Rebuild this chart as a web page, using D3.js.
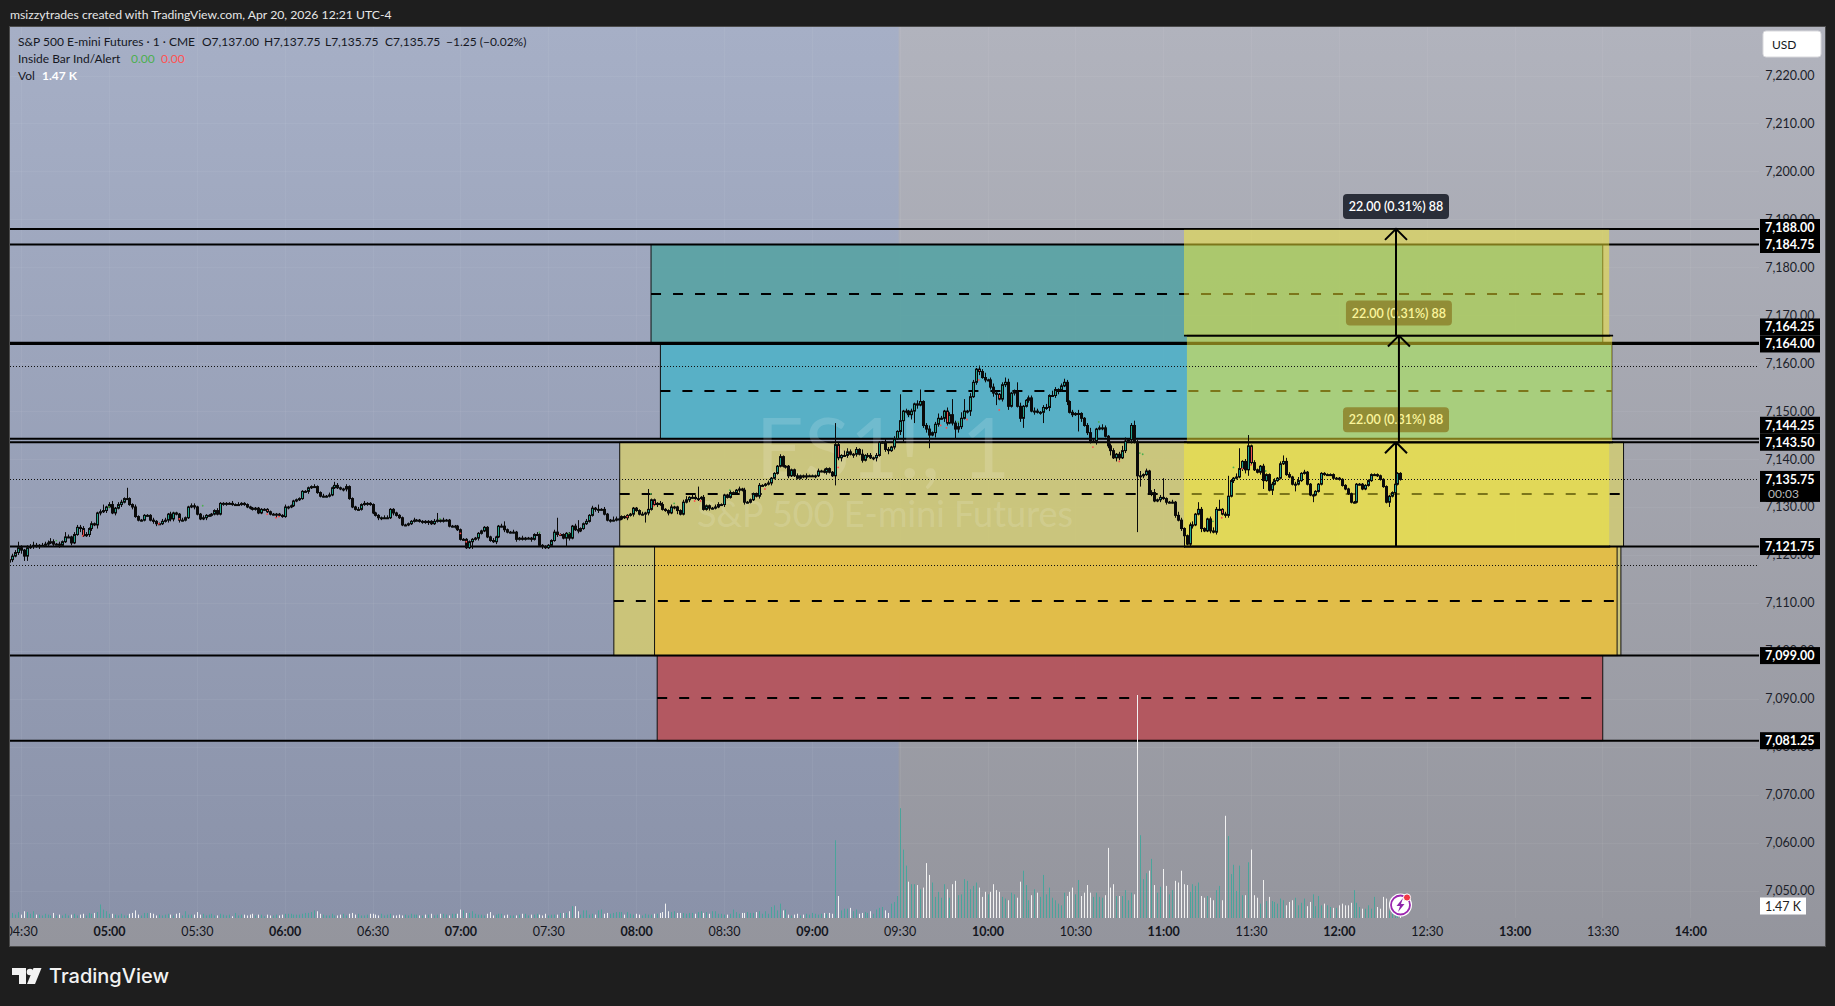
<!DOCTYPE html>
<html><head><meta charset="utf-8">
<script src="https://cdn.jsdelivr.net/npm/d3@7/dist/d3.min.js"></script>
<style>
html,body{margin:0;padding:0;background:#1e1e1e;overflow:hidden}
svg{display:block}
text{font-family:Lato,"Noto Sans",sans-serif}
</style></head><body><svg id="c" width="1835" height="1006"></svg>
<script>
// ---------- data ----------
const closesEarly=[7119,7119.75,7120.5,7121.5,7121,7119.75,7121.5,7121.75,7122,7121.75,7122,7122,7122.25,7122.5,7122.75,7122.25,7122.25,7122,7122.75,7123.75,7123.75,7122.5,7124.25,7125.75,7125.5,7124,7124.25,7125.5,7126.5,7126.25,7128.75,7129,7129.25,7130,7130.5,7128.75,7129.75,7130.5,7131,7131.75,7131.75,7130.5,7130,7128,7127.25,7127.25,7128.25,7128.25,7127.25,7127,7126.5,7126.5,7127,7127.25,7128.5,7127.5,7128.75,7128.5,7127.25,7127.25,7127.75,7130,7130.25,7130,7128.5,7127.5,7127.75,7128.25,7128.25,7128.5,7129.25,7128.5,7130.75,7130.75,7130.75,7130.75,7130.5,7130.5,7130.5,7130.75,7130.5,7130,7129.75,7129.5,7129.75,7128.75,7129.5,7129.5,7129,7128.5,7128.5,7128.5,7128.25,7128,7130,7130,7130.25,7131.25,7131.5,7131.75,7133.25,7133.25];
const closesMorning=[7134,7134.25,7134.25,7133,7132.25,7132.25,7132.25,7132.5,7134,7134.5,7134,7133.75,7133.75,7134.25,7131.75,7130,7129.5,7129.5,7130.5,7130.75,7130.75,7130.5,7128.75,7128.25,7127.75,7127.75,7127.75,7127.75,7129.5,7128.75,7128.25,7127.75,7126.25,7126.25,7126.5,7127,7127.25,7127.25,7127,7127,7126.75,7127,7126.5,7127,7127.25,7127,7127.25,7127.25,7126,7126,7126,7125.25,7123.25,7123.25,7121.5,7122.75,7123.25,7123.5,7124.5,7125,7125.75,7123.75,7123,7122.75,7123.75,7126,7126,7125.25,7124.75,7124.75,7124.75,7123.25,7123.5,7123.25,7123.5,7123.5,7123.25,7124.25,7124.25,7122,7121.75,7121.5,7122,7123,7124.75,7124.25,7124.25,7123.5,7124.5,7123.5,7126,7125.25,7125,7125.5,7126.5,7127,7128.25,7129.75,7129.5,7129.5,7129.5,7128.5,7127.25,7127.25,7127.25,7127.5,7127.5,7128,7127.75,7128.25,7128.5,7129.75,7129.25];
const closesOpen=[7128.5,7128.5,7128.75,7129.5,7131.5,7130.5,7130.75,7130.5,7129.5,7129.25,7128.75,7130,7130,7129.25,7128.5,7131,7131.5,7132,7132,7131.75,7131.75,7132,7129.5,7130.25,7129.75,7129.75,7130,7130.5,7130.5,7132.5,7132,7133,7133,7133.5,7133.75,7133.5,7131,7131,7131.5,7132.75,7132.25,7134.5,7134.5,7134.75,7135,7136,7137,7138.5,7140.5,7138.5,7138.5,7136.5,7137.75,7136.5,7136,7136.5,7136.25,7136.5,7136.5,7136.5,7136.5,7137.5,7137.5,7137.25,7138,7137.25,7136.5,7143,7140.25,7140.75,7140.75,7141.5,7141,7141,7142,7141,7139.75,7140.75,7140.75,7140.25,7140.25,7140.75,7143.5,7143.5,7142,7141.75,7142.5,7144.25,7145.75,7148,7150,7150,7149.25,7150,7151.5,7151.25,7152,7147,7146.25,7145,7145.5,7147.25,7148.5,7148.5,7150,7147.5,7149.25,7147.5,7146.25,7146.75,7148.5,7150,7150,7153,7156,7158.75,7158.25,7157,7156.5,7156.5,7155,7153.75,7153.5,7152.5,7155.5,7156,7151,7153.75,7154,7151];
const closesMidday=[7148.5,7151,7152.25,7152.75,7150,7150,7149.75,7149.75,7150.75,7150.75,7153.25,7153.25,7154.5,7154.5,7155.25,7156,7152,7149.75,7149.25,7149.5,7149.5,7148.5,7147,7145.5,7143.75,7143.75,7146.25,7146.5,7146.5,7144.75,7142.75,7141.75,7140.25,7141,7140.25,7141.75,7143.75,7144,7147,7143.5,7136.5,7136.5,7136.75,7137.5,7133,7133,7131.25,7131.5,7132,7131.75,7131,7131,7131,7128.25,7127.25,7125.5,7124,7122.25,7126.25,7126.25,7128.5,7129.5,7125.5,7125,7127.5,7125,7124.75,7129.5,7129.5,7128.5,7128.25,7132.25,7135.5,7136,7136.25,7138,7139.5,7137.75,7142.75,7139.25,7137.75,7137.25,7138.5,7135.5,7136.75,7133.5,7134.75,7135.5,7136,7139,7139.5,7136.75,7136.25,7134.75,7134.75,7135.5,7137,7137.25,7134.75,7132.5,7132.5,7133.25,7134.75,7137,7136.75,7136.75,7136.75,7136,7136,7135.75,7134.5,7133.75,7132.75,7131,7131,7134.75,7134.75,7133.75,7134.5,7135.5,7136.75,7136.75,7136.5,7135.75,7134.25,7131,7132.25,7133,7134.75,7137,7135.75];
const upperWicks=[.5,.5,.5,.75,.5,.25,.5,.5,.75,.5,.25,.5,.5,.5,.75,.5,.25,.5,.25,.25,.5,.25,.5,.5,.25,.5,.5,.25,.5,.25,.25,.5,.5,.25,.5,.75,.25,.5,.5,.25,.5,.25,.25,.5,.25,.25,.25,.25,.25,.5,.25,.25,.5,.5,.25,.5,.25,.25,.25,.5,.25,.25,.5,.5,.25,.25,.5,.25,.25,.25,.25,.5,.25,.25,.25,.25,.5,.25,.5,.25,.25,.25,.25,.25,.25,.25,.25,.25,.25,.25,.25,.25,.25,.25,.5,.25,.25,.25,.25,.25,.25,.25,.25,.25,.5,.25,.25,.5,.25,.5,.25,.75,.5,.25,.25,.5,.25,.25,.25,.5,.25,.5,.25,.25,.25,.25,.25,.25,.5,.5,.25,.25,.25,.25,.25,.25,.25,.25,.5,.25,.25,.25,.25,.25,.25,.5,.25,.25,.5,.25,.25,.25,.25,.25,.25,.25,.25,.25,.25,.25,.25,.25,.25,.25,.25,.5,.25,.25,.5,.5,.25,.25,.5,.25,.25,.5,.25,.25,.25,.25,.5,.25,.25,.25,.25,.25,.5,.25,.25,.25,.25,.25,.25,.5,.25,.25,.25,.5,.25,.5,.25,.25,.25,.5,.25,.25,.75,.5,.25,.25,.25,.25,.25,.25,.25,.25,.5,.25,.25,.25,.25,.25,.5,.5,.25,.25,.5,.25,.25,.25,.5,.75,.25,.5,.5,.25,.25,.5,.25,.25,.25,.5,.5,.25,.25,.25,.5,.25,.25,.5,.25,.5,.25,.25,.25,.25,.5,.25,.25,.5,.25,.25,.25,.5,.25,.25,.25,.25,.25,.5,.25,.25,.5,.25,.25,.25,.5,.25,.5,.25,.25,.25,.25,.5,.25,1,.75,.5,.25,.5,.25,1,.25,.5,.5,.25,.5,.25,.25,.75,.5,.25,.5,.25,.5,.25,.5,.25,.5,.25,.75,.25,.25,.5,.75,.25,.5,1,.5,.25,.75,.5,.75,.5,1,1.25,.5,.25,.75,.5,.25,.75,.5,1,.25,.5,.75,.5,.25,.5,1,.75,.25,.5,.5,.75,.25,.25,.5,.5,.75,.5,.25,.5,.75,.25,1,.5,.25,.5,.75,.5,.25,.5,.25,.75,.25,.25,.5,1,.5,.25,.5,.75,.5,.25,.5,.5,.25,.5,1,.75,.25,.5,.75,.5,1,.25,.5,.25,.5,.75,.25,.5,.5,.25,.25,.5,.25,.75,.5,.25,.25,.5,.75,.25,.5,.5,.25,.25,.5,.75,.5,.25,.25,.5,.5,.25,.25,.75,.5,.25,.5,.25,.25,.5,.25,.25,.5,.25,.25,.5,.5,.25,.5,.25,.75,.5,.25,.5,.75,.25,.5];
const lowerWicks=[.75,.5,.25,.5,.75,.5,1,.25,.5,.25,.5,.25,.25,.5,.25,.5,.25,.5,.25,.25,.25,.5,.25,.25,.75,.25,.25,.5,.5,.25,.25,.5,.25,.5,.25,.25,.5,.25,.5,.25,.25,.25,.5,.25,.25,.25,.25,.25,.25,.5,.5,.25,.25,.25,.5,.5,.5,.25,.5,.25,.25,.25,.25,.5,.25,.25,.25,.5,.25,.25,.25,.25,.25,.5,.5,.25,.25,.25,.25,.25,.25,.25,.25,.25,.25,.25,.25,.25,.25,.25,.25,.25,.25,.25,.25,.5,.25,.25,.25,.25,.25,.25,.5,.25,.25,.25,.25,.25,.25,.25,.25,.25,.25,.25,.5,.5,.25,.25,.25,.25,.25,.25,.5,.25,.25,.25,.5,.5,.25,.25,.25,.5,.25,.25,.25,.25,.25,.25,.25,.25,.25,.5,.25,.5,.25,.25,.25,.25,.25,.25,.25,.25,.5,.25,.25,.25,.25,.25,.25,.25,.5,.25,.25,.25,.25,.25,.5,.25,.25,.5,.25,.25,.25,.5,.25,.25,.25,.25,.5,.25,.25,.25,.5,.25,.25,.25,.25,.5,.25,.25,.25,.5,.25,.25,.5,.25,.25,.25,.25,.25,.5,.75,.25,.25,.25,.5,.25,.25,.25,.25,.25,.5,.25,.5,.25,.25,.25,.25,.5,.25,.25,.5,.25,.25,.25,.5,.25,.5,.75,.25,.25,.25,.5,.25,.25,.5,.25,.25,.25,.5,.25,.25,.25,.25,.5,.25,.25,.25,.25,.5,.25,.5,.25,.25,.25,.25,.5,.25,.25,.25,.5,.25,.25,.25,.25,.5,.5,.25,.25,.25,.25,.25,.5,.25,.25,.5,.25,.25,.25,.5,.25,.25,1,.5,.75,.25,.5,.25,.75,.5,.25,.5,.25,.5,.25,.5,.75,.25,.25,.5,.75,.25,.5,.25,.75,.25,.5,.5,1,.5,.75,.25,.5,.75,.5,.25,1,.5,.25,.75,.5,.25,.5,.25,.75,.5,.25,.5,1,.25,.5,.75,.25,.5,.25,.5,.75,.5,.25,.5,.5,.75,.25,.5,.25,.75,.5,.25,.5,.25,.75,.25,.5,.25,.5,.75,.25,.5,1,.5,.25,.75,.25,.5,.25,.5,.75,.25,.5,.5,.25,.75,.25,.5,.25,.5,1,.25,.75,.5,.25,.5,.25,.75,.25,.5,.25,.5,.25,.5,.75,.25,.25,.5,.25,.5,.25,.25,.5,.25,.5,.25,.25,.5,.75,.25,.25,.5,.25,.25,.5,.25,.5,.25,.25,.5,.25,.25,.5,.25,.25,.5,.75,.25,.5,.25,.25,.5,.25,.25,.25,.25];
// long wicks read individually: [minute of day, price]
const longHighs=[[269,7122.75],[285,7124.75],[290,7126.25],[298,7130.5],[306,7134],[412,7128.75],[435,7127],[453,7127.75],[460,7127.25],[467,7130.5],[484,7133.75],[501,7134.25],[548,7147.5],[570,7153.5],[577,7154.5],[588,7152.5],[592,7152.5],[610,7156],[650,7148],[660,7136],[672,7131],[679,7131.5],[682,7136.5],[686,7142.25],[689,7145],[701,7140.75]];
const longLows=[[271,7118.75],[296,7125.5],[357,7127.75],[424,7121.25],[456,7121.75],[483,7126.75],[548,7134.5],[571,7143.5],[575,7147.5],[580,7142.25],[589,7144.25],[603,7151.25],[612,7146.5],[619,7147.5],[631,7145.75],[651,7124.75],[652,7134.25],[667,7121.5],[673,7124.75],[682,7127.75],[689,7136.5],[694,7133.75],[697,7132.5],[705,7133.25],[711,7131],[737,7130]];
const redBodyMinutes=[291,354,357,486,502,549,586,597,604,636,680,690];
const redDots=[[291,7124],[317,7126.5],[324,7127.5],[354,7128.5],[357,7127.75],[358,7128],[420,7124.5],[422,7122.75],[454,7124.25],[477,7128],[486,7130.25],[500,7131.25],[502,7131.25],[524,7133.75],[549,7138.25],[584,7147],[586,7146.5],[593,7148.25],[597,7156.5],[604,7150.25],[636,7142.5],[645,7139.5],[680,7127.75],[687,7138],[690,7138.75]];
const greenDots=[[282,7123],[300,7130],[332,7130.25],[413,7127.5],[447,7124.75],[457,7124.5],[485,7132.75],[493,7130.75],[512,7133.5],[590,7147.75],[638,7147.75],[652,7141.25],[653,7141],[677,7127],[684,7138.25],[695,7137.5]];
const volumesEarly=[.5,.6,.4,.7,.4,.8,.7,.5,.8,.4,.4,.3,.5,.4,.3,.6,.3,.4,.3,.5,.3,.4,.5,.3,.4,.5,.3,.6,.5,.6,.7,1.6,1,.8,.5,.5,.4,.3,.5,.3,.3,.5,.6,.9,.4,.3,.6,.6,.6,.5,.3,.4,.3,.4,.5,.4,.3,.5,.6,.3,.8,.4,.4,.4,.7,.4,.5,.3,.4,.5,.3,.3,.5,.4,.3,.4,.2,.6,.3,.4,.4,.3,.4,.5,.3,.4,.4,.2,.4,.3,.3,.4,.3,.4,.5,.5,.5,.4,.4,.4,.5,.6,.6,.7,.9,.8,.5,.4,.3,.3,.5,.3,.3,.4,.5,.3,.5,.6,.4,.5,.3,.3,.4,.5,.5,.4,.3,.5,.3,.4,.5,.3,.3,.4,.3,.4,.3,.5,.4,.4,.3,.3,.4,.4,.5,.3,.4,.5,.5,.4,.3,.5,.5,.5,1,.9,.6,.6,.8,.5,.4,.4,.3,.5,.7,.3,.4,.5,.5,.3,.4,.3,.3,.3,.4,.5,.5,.3,.4,.4,.5,.4,.3,.5,.3,.4,.4,.4,.6,.6,.6,.8,1.4,1.4,.8,.4,.9,.9,.4,.5,.4,.9,1,.5,.6,.5,.6,.7,.7,.7,.4,.7,.5,.4,.5,.4,.3,.5,.4,.4,.5,.5,.6,.7,1.7,.8,.7,.8,.6,.6,.6,.5,.6,.6,.5,.7,.8,.6,.7,.5,.8,.8,.5,.5,.4,.4,.5,1,.7,.5,.6,.6,.7,.6,.6,.7,.8,.5,.8,.5,1.3,1.5,.9,1.7,.9,1,.4,.3,.4,.5,.3,.4,.5,.4,.6,.5,.4,.5,.6,.5,.6,.5,9.2,2.6,.9,1.1,1.1,1.2,.8,1,.5,.6,.7,.6,.8,.5,1,1.2];
const volumesSession=[1.3,.9,.6,1.7,1.9,2.6,13,8.1,6.2,4.3,4,4,3.9,3.4,3.6,6.5,5.1,4.2,2.5,3.1,2.4,4,3.4,2.4,4,4.4,2.7,2.8,4.6,4.4,3.4,3.8,4.2,3.6,2.5,3.1,2.8,3.1,4,3.3,3.1,2.5,2.3,2.1,3,2.8,2.4,4.3,5.6,3.9,2.1,2.7,3.4,3,2.5,5.1,2.8,3.6,2.4,2.1,1.7,1.5,3,2.6,3.1,3.6,2.8,4.5,2.6,3,3.9,3,2.5,3,2.5,2.4,2.7,8.3,3.6,4,2.6,2.6,2.6,3.3,2.1,3,2.8,26.4,9.8,4.6,5.3,5.6,7,3.9,3,3.7,5.8,3.8,2.8,3.3,4.4,4.2,5.6,4,3.9,3.1,4,3.8,4.2,2.6,2.4,2.6,2.4,2.1,3.3,3.8,2.1,12.1,9.7,5.2,6.3,3.2,6.2,2.7,2.7,6.6,8.1,2.7,2.4,1.7,4.5,2,2.5,2,1.9,1.7,2.3,2.1,1.5,1.9,2.1,2.4,1.5,1.8,2.3,1.4,1.9,2.8,1.4,2.6,1.5,1.7,1.5,1.3,1.2,1.2,1.5,1.7,1.5,1.5,1.8,3.3,1.8,1.3,1.1,1.1,1.5,1.1,2.5,1.3,1.1,2.5,2.3,.9,2,1.6,1.2,1.47];
const priceTicks=[7220,7210,7200,7190,7180,7170,7160,7150,7140,7130,7120,7110,7100,7090,7080,7070,7060,7050];
const timeTicks=[270,300,330,360,390,420,450,480,510,540,570,600,630,660,690,720,750,780,810,840];
const levelPrices=[7188,7184.75,7164.25,7164,7144.25,7143.5,7121.75,7099,7081.25];
const dottedPrices=[7159.5,7135.75,7118];
const zones=[ // [start minute, end minute, top price, bottom price, fill]
 [472.4,816.3,7121.75,7099,"rgba(205,198,118,.95)"],
 [486.3,815,7121.75,7099,"rgb(225,189,73)"],
 [487.2,810.1,7099,7081.25,"rgba(180,86,94,.97)"],
 [485.1,810.1,7184.75,7164.25,"rgba(93,163,165,.97)"],
 [488.3,813.2,7164,7144.25,"rgba(87,176,198,.98)"],
 [474.4,817.2,7143.5,7121.75,"rgba(204,199,122,.95)"]];
const midlines=[[472.4,816.3,7110.4],[487.2,810.1,7090.1],[485.1,810.1,7174.5],[488.3,813.2,7154.25],[474.4,817.2,7132.75]];
const measures=[ // bottom to top: [start, end, low price, high price, arrow minute]
 [667.1,812.3,7121.75,7143.5,739.5],
 [668.1,813.3,7143.5,7165.75,740.5],
 [667.1,812.3,7165.75,7188,739.5]];
const lastMinute=741, sessionOpen=570;

// ---------- scales ----------
const F={l:10,t:27,r:1825,b:946,axX:1759,axY:918};
const x=d3.scaleLinear().domain([300,840]).range([109,1690.3]);
const y=d3.scaleLinear().domain([7050,7220]).range([890.5,75.5]);
const vol=d3.scaleLinear().domain([0,26.4]).range([918,695]);
const hhmm=m=>d3.format("02")(Math.floor(m/60))+":"+d3.format("02")(m%60);

const svg=d3.select("#c");
const defs=svg.append("defs");
const grad=(id,a,b)=>{const g=defs.append("linearGradient").attr("id",id).attr("x1",0).attr("y1",0).attr("x2",0).attr("y2",1);
 g.append("stop").attr("offset",0).attr("stop-color",a);g.append("stop").attr("offset",1).attr("stop-color",b);};
grad("bgGrey","#b1b3bd","#94959d");grad("bgBlue","#a6afc6","#8a92a9");
defs.append("clipPath").attr("id","plot").append("rect").attr("x",F.l).attr("y",F.t).attr("width",F.axX-F.l).attr("height",F.axY-F.t);
defs.append("clipPath").attr("id","frame").append("rect").attr("x",F.l).attr("y",F.t).attr("width",F.r-F.l).attr("height",F.b-F.t);

// ---------- frame and header ----------
svg.append("text").attr("x",10).attr("y",19).attr("fill","#e6e6e6").attr("font-size",12.2).text("msizzytrades created with TradingView.com, Apr 20, 2026 12:21 UTC-4");
svg.append("rect").attr("x",F.l-.5).attr("y",F.t-.5).attr("width",F.r-F.l+1).attr("height",F.b-F.t+1).attr("fill","url(#bgGrey)").attr("stroke","#4b4b4b");
svg.append("rect").attr("x",F.l).attr("y",F.t).attr("width",x(sessionOpen)-F.l-1).attr("height",F.axY-F.t).attr("fill","url(#bgBlue)");

// grid
const grid=svg.append("g").attr("clip-path","url(#plot)").attr("stroke","rgba(255,255,255,.05)");
grid.selectAll("line.h").data(priceTicks).join("line").attr("x1",F.l).attr("x2",F.axX).attr("y1",d=>Math.round(y(d))+.5).attr("y2",d=>Math.round(y(d))+.5);
grid.selectAll("line.v").data(timeTicks).join("line").attr("y1",F.t).attr("y2",F.axY).attr("x1",d=>Math.round(x(d))+.5).attr("x2",d=>Math.round(x(d))+.5);

// axes
const yAxis=d3.axisRight(y).tickValues(priceTicks).tickFormat(d3.format(",.2f")).tickSize(0);
const gy=svg.append("g").attr("transform","translate(1814.5,0)").call(yAxis);
gy.select(".domain").remove();
gy.selectAll("text").attr("x",0).attr("text-anchor","end").attr("fill","#1c1f2a").attr("font-size",12.5).style("font-family","Lato");
const xAxis=d3.axisBottom(x).tickValues(timeTicks).tickFormat(hhmm).tickSize(0);
const gx=svg.append("g").attr("clip-path","url(#frame)").append("g").attr("transform","translate(0,927)").call(xAxis);
gx.select(".domain").remove();
gx.selectAll("text").attr("y",0).attr("dy","0.75em").attr("fill","#14161e").attr("font-size",12.5).style("font-family","Lato").attr("font-weight",d=>d%60===0?700:400);

// ---------- zones, levels ----------
const plot=svg.append("g").attr("clip-path","url(#plot)");
const ry=d=>Math.round(y(d));
plot.selectAll("rect.z").data(zones).join("rect").attr("x",d=>x(d[0])).attr("width",d=>x(d[1])-x(d[0])).attr("y",d=>y(d[2])).attr("height",d=>y(d[3])-y(d[2])).attr("fill",d=>d[4]).attr("stroke","#111").attr("stroke-width",1);
plot.selectAll("line.m").data(midlines).join("line").attr("x1",d=>x(d[0])).attr("x2",d=>x(d[1])).attr("y1",d=>ry(d[2])).attr("y2",d=>ry(d[2])).attr("stroke","#000").attr("stroke-width",2).attr("stroke-dasharray","10 12");
plot.selectAll("line.l").data(levelPrices).join("line").attr("x1",F.l).attr("x2",F.axX).attr("y1",d=>y(d)).attr("y2",d=>y(d)).attr("stroke","#000").attr("stroke-width",2);

// watermark
plot.append("text").attr("x",883).attr("y",478).attr("text-anchor","middle").attr("font-size",84).attr("fill","rgba(255,255,255,.15)").attr("font-weight",400).text("ES1!, 1");
plot.append("text").attr("x",885).attr("y",527).attr("text-anchor","middle").attr("font-size",36).attr("fill","rgba(255,255,255,.15)").text("S&P 500 E-mini Futures");

// ---------- volume ----------
const closes=[...closesEarly,...closesMorning,...closesOpen,...closesMidday];
const firstMinute=lastMinute-closes.length+1;
const opens=closes.map((c,i)=>i?closes[i-1]:c-.5);
opens[opens.length-1]=7137;
const volumes=[...volumesEarly,...volumesSession];
const volStart=lastMinute-volumes.length+1;
const isUp=m=>{const i=m-firstMinute;return i<0||i>=closes.length?true:closes[i]>=opens[i];};
plot.selectAll("line.v").data(volumes).join("line")
 .attr("x1",(d,i)=>Math.round(x(volStart+i))+.5).attr("x2",(d,i)=>Math.round(x(volStart+i))+.5)
 .attr("y1",vol(0)).attr("y2",d=>vol(d))
 .attr("stroke",(d,i)=>isUp(volStart+i)?"#4ba49b":"#f2f2f2").attr("stroke-width",1);

// ---------- measure tools (each later rectangle veils the earlier pill) ----------
const overlay="rgba(248,236,52,.5)";
const mg=svg.append("g").attr("clip-path","url(#plot)");
measures.forEach(m=>{
 const g=mg.append("g");
 g.append("rect").attr("x",x(m[0])).attr("width",x(m[1])-x(m[0])).attr("y",y(m[3])).attr("height",y(m[2])-y(m[3])).attr("fill",overlay);
 g.selectAll("line.e").data([m[3],m[2]]).join("line").attr("x1",x(m[0])).attr("x2",x(m[1])+1).attr("y1",d=>y(d)).attr("y2",d=>y(d)).attr("stroke","#000").attr("stroke-width",1.8);
 const ax=x(m[4]);
 g.append("line").attr("x1",ax).attr("x2",ax).attr("y1",y(m[2])).attr("y2",y(m[3])).attr("stroke","#000").attr("stroke-width",2);
 g.append("path").attr("d",d3.line()([[ax-11,y(m[3])+11],[ax,y(m[3])],[ax+11,y(m[3])+11]])).attr("fill","none").attr("stroke","#000").attr("stroke-width",2);
 const pg=g.append("g").attr("transform",`translate(${ax},${y(m[3])-22.5})`);
 pg.append("rect").attr("x",-53).attr("y",-12.5).attr("width",106).attr("height",25).attr("rx",4).attr("fill","#2a2e39");
 pg.append("text").attr("text-anchor","middle").attr("y",4.5).attr("fill","#fff").attr("font-size",12.5).attr("font-weight",600).text("22.00 (0.31%) 88");
});

// ---------- candles ----------
const bars=closes.map((c,i)=>{const o=opens[i],m=firstMinute+i;return {m,o,c,h:Math.max(o,c)+(upperWicks[i]||.25),l:Math.min(o,c)-(lowerWicks[i]||.25)};});
const byMin=new Map(bars.map(b=>[b.m,b]));
longHighs.forEach(([m,p])=>{const b=byMin.get(m);if(b)b.h=Math.max(b.h,p);});
longLows.forEach(([m,p])=>{const b=byMin.get(m);if(b)b.l=Math.min(b.l,p);});
const cg=svg.append("g").attr("clip-path","url(#plot)");
cg.selectAll("line.w").data(bars).join("line").attr("x1",d=>Math.round(x(d.m))+.5).attr("x2",d=>Math.round(x(d.m))+.5).attr("y1",d=>y(d.h)).attr("y2",d=>y(d.l)).attr("stroke","#0a0a0a").attr("stroke-width",1);
cg.selectAll("rect.b").data(bars).join("rect").attr("x",d=>Math.round(x(d.m))-.5).attr("width",2).attr("y",d=>y(Math.max(d.o,d.c))).attr("height",d=>Math.max(1,Math.abs(y(d.o)-y(d.c))))
 .attr("fill",d=>redBodyMinutes.includes(d.m)?"#ef5350":(d.c>=d.o?"#1fa38c":"#0a0a0a")).attr("stroke","#0a0a0a").attr("stroke-width",1);
const dots=(data,col)=>cg.selectAll(null).data(data).join("circle").attr("cx",d=>x(d[0])).attr("cy",d=>y(d[1])).attr("r",.9).attr("fill",col);
dots(redDots,"#ff4d4d");dots(greenDots,"#4caf50");

// dotted levels
const dg=svg.append("g").attr("clip-path","url(#plot)");
dg.selectAll("line").data(dottedPrices).join("line").attr("x1",F.l).attr("x2",1757).attr("y1",d=>ry(d)+.5).attr("y2",d=>ry(d)+.5).attr("stroke","#111").attr("stroke-width",1).attr("stroke-dasharray","1 2");

// ---------- price labels ----------
const lab=svg.append("g");
const sorted=[...levelPrices].sort((a,b)=>a-b);
const labelY=new Map();
let below=Infinity;
sorted.forEach(p=>{let v=y(p);if(below-v<17)v=below-17;labelY.set(p,v);below=v;});
lab.selectAll("rect.lv").data(sorted).join("rect").attr("x",1760).attr("width",60).attr("y",d=>labelY.get(d)-8.5).attr("height",17).attr("fill","#000");
lab.selectAll("text.lv").data(sorted).join("text").attr("x",1814.5).attr("y",d=>labelY.get(d)+4.5).attr("text-anchor","end").attr("fill","#fff").attr("font-size",12.5).attr("font-weight",700).text(d=>d3.format(",.2f")(d));
lab.append("rect").attr("x",1760).attr("width",60).attr("y",y(7135.75)-8.5).attr("height",31).attr("fill","#000");
lab.append("text").attr("x",1814.5).attr("y",y(7135.75)+4.5).attr("text-anchor","end").attr("fill","#fff").attr("font-size",12.5).attr("font-weight",700).text("7,135.75");
lab.append("text").attr("x",1768).attr("y",y(7135.75)+18.5).attr("fill","#b8b8b8").attr("font-size",12).text("00:03");
lab.append("rect").attr("x",1760).attr("y",897.5).attr("width",46).attr("height",17).attr("fill","#fff");
lab.append("text").attr("x",1783).attr("y",910.5).attr("text-anchor","middle").attr("fill","#222").attr("font-size",12.5).text("1.47 K");
lab.append("rect").attr("x",1763).attr("y",31).attr("width",58).attr("height",26).attr("rx",3).attr("fill","#fff").attr("stroke","#d8d8dc");
lab.append("text").attr("x",1772).attr("y",48.5).attr("fill","#131722").attr("font-size",12).text("USD");

// ---------- legend ----------
const L=svg.append("g").attr("font-size",12).attr("fill","#15171f");
const legendRow=(px,py,t,col,w)=>L.append("text").attr("x",px).attr("y",py).attr("fill",col||"#15171f").attr("font-weight",w||400).text(t);
legendRow(18,46,"S&P 500 E-mini Futures · 1 · CME");
legendRow(202,46,"O7,137.00");legendRow(264,46,"H7,137.75");legendRow(325,46,"L7,135.75");legendRow(385,46,"C7,135.75");legendRow(446,46,"−1.25 (−0.02%)");
legendRow(18,63,"Inside Bar Ind/Alert");legendRow(131,63,"0.00","#4caf50");legendRow(161,63,"0.00","#ff5252");
legendRow(18,80,"Vol");legendRow(42,80,"1.47 K","#fff",700);

// ---------- bolt badge ----------
const bolt=svg.append("g").attr("transform","translate(1400.5,905)");
bolt.append("circle").attr("r",11.5).attr("fill","#fff");
bolt.append("circle").attr("r",9.5).attr("fill","#fff").attr("stroke","#9c27b0").attr("stroke-width",1.8);
bolt.append("path").attr("d","M2.5,-7 L-4,1 L-0.5,1 L-2.5,7 L4,-1 L0.5,-1 Z").attr("fill","#8e24aa");
bolt.append("circle").attr("cx",6.5).attr("cy",-7.5).attr("r",3.6).attr("fill","#f23645").attr("stroke","#fff");

// ---------- logo ----------
const logo=svg.append("g").attr("fill","#f2f2f2");
logo.append("path").attr("d","M12,968 H26 V984 H19 V975 H12 Z");
logo.append("circle").attr("cx",30).attr("cy",972).attr("r",3.3);
logo.append("path").attr("d","M33.5,968 H41.5 L35,984 H27 Z");
logo.append("text").attr("x",49).attr("y",983).attr("font-size",20).attr("font-weight",500).attr("fill","#f2f2f2").style("font-family","Inter").text("TradingView");
</script></body></html>
